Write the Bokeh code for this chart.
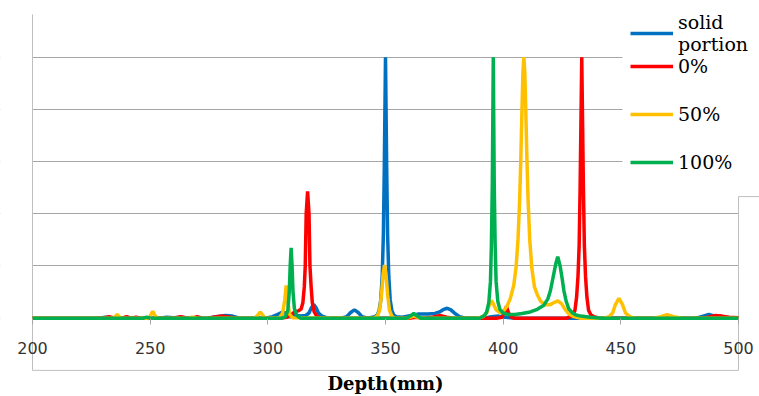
from bokeh.plotting import figure
from bokeh.models import (Range1d, LinearAxis, FixedTicker, Legend, LegendItem,
                          BoxAnnotation, Grid)
from bokeh.embed import file_html
from bokeh.resources import INLINE

# ---------------- data ----------------
x_ticks = [200, 250, 300, 350, 400, 450, 500]
grid_ticks = [0, 1, 2, 3, 4, 5]

solid_x = [200, 228, 231, 234, 254, 257, 260, 263, 266, 274, 278, 282, 285, 288, 299, 302, 304, 306, 308,
           310, 312, 314, 316, 317.5, 318.5, 319.5, 320.5, 321.5, 323, 325, 331, 333.5, 335.2, 336.8, 338.4,
           340, 342.5, 345.5, 346.5, 347.3, 348, 348.6, 349.1, 349.5, 350, 350.5, 350.9, 351.4, 352, 352.7,
           353.5, 354.5, 357, 361, 364, 368, 371, 373, 374.8, 376.2, 377.8, 379.5, 381.5, 384, 392, 395,
           398, 401, 405, 482, 485, 487.4, 490, 494, 500]
solid_y = [0, 0, 0.02, 0, 0, 0.02, 0.01, 0.02, 0, 0, 0.03, 0.05, 0.04, 0, 0, 0.03, 0.07, 0.11, 0.1,
           0.07, 0.05, 0.04, 0.05, 0.1, 0.2, 0.26, 0.2, 0.1, 0.04, 0.01, 0, 0.03, 0.11, 0.16, 0.11,
           0.03, 0, 0.03, 0.06, 0.15, 0.35, 0.8, 1.6, 2.9, 5.0, 2.9, 1.6, 0.8, 0.35, 0.15,
           0.06, 0.03, 0.02, 0.05, 0.08, 0.08, 0.09, 0.12, 0.17, 0.19, 0.16, 0.09, 0.03, 0, 0, 0.03,
           0.04, 0.02, 0, 0, 0.04, 0.07, 0.04, 0.01, 0]

p0_x = [200, 230, 232.5, 235, 238, 240, 242, 244, 246, 260, 263, 266, 268, 270, 272, 275, 278, 281, 284,
        287, 305, 308, 310, 311.5, 313, 314.2, 314.9, 315.5, 315.9, 316.3, 316.9, 317.5, 317.9, 318.4,
        318.9, 319.7, 320.8, 322.5, 360, 363, 366, 370, 373.4, 376, 379, 397, 399.5, 400.5, 401.4,
        402.3, 403.5, 405, 427, 428.5, 429.5, 430.5, 431.2, 431.8, 432.3, 432.7, 433.4, 434.1, 434.5,
        435.0, 435.6, 436.3, 437.3, 438.5, 441, 484, 487, 490, 493, 496, 500]
p0_y = [0, 0, 0.03, 0, 0, 0.03, 0, 0.02, 0, 0, 0.03, 0, 0, 0.03, 0, 0, 0.03, 0.04, 0.02,
        0, 0, 0.02, 0.06, 0.13, 0.14, 0.18, 0.3, 0.6, 1.0, 2.0, 2.43, 2.0, 1.0, 0.6,
        0.3, 0.12, 0.04, 0, 0, 0.02, 0, 0.02, 0.05, 0.02, 0, 0, 0.02, 0.1, 0.23,
        0.1, 0.02, 0, 0, 0.03, 0.06, 0.15, 0.4, 0.8, 1.4, 2.5, 5.0, 2.5, 1.4,
        0.8, 0.4, 0.15, 0.06, 0.03, 0, 0, 0.02, 0.05, 0.04, 0.02, 0.01]

p50_x = [200, 234.5, 236, 237.5, 249.5, 251.1, 252.7, 266, 268, 270, 294.5, 295.8, 296.8, 297.8, 299,
         305, 306.3, 307.2, 307.8, 308.4, 309.2, 310.5, 345, 346.5, 347.5, 348.3, 349, 349.6, 350.2,
         350.9, 351.7, 352.7, 354, 359, 362, 365, 389, 391.5, 393, 394, 395, 396, 397, 398.5, 400,
         401.5, 403, 404.5, 405.5, 406.3, 407, 407.5, 408, 408.4, 408.8, 409.2, 409.6, 410.1, 410.6,
         411.3, 412.2, 413.3, 414.5, 416, 418, 420, 421.6, 423.2, 424.8, 426.3, 428, 430, 433, 443,
         445, 446.5, 447.7, 449.2, 450.7, 452, 453.8, 456, 464, 467, 469.7, 472.5, 476, 500]
p50_y = [0, 0, 0.07, 0, 0, 0.13, 0, 0, 0.02, 0, 0, 0.06, 0.12, 0.06, 0,
         0.01, 0.1, 0.35, 0.63, 0.35, 0.08, 0.01, 0, 0.04, 0.15, 0.45, 0.85, 1.02, 0.85,
         0.45, 0.15, 0.04, 0, 0, 0.04, 0, 0, 0.03, 0.1, 0.24, 0.34, 0.26, 0.16, 0.11, 0.13,
         0.22, 0.37, 0.63, 0.98, 1.5, 2.25, 3.05, 4.0, 4.7, 5.0, 4.7, 4.0, 3.05, 2.25,
         1.5, 0.95, 0.6, 0.45, 0.32, 0.26, 0.26, 0.3, 0.33, 0.28, 0.17, 0.08, 0.03, 0, 0,
         0.03, 0.1, 0.26, 0.38, 0.26, 0.1, 0.03, 0, 0, 0.03, 0.07, 0.03, 0, 0]

p100_x = [200, 247, 248.5, 250, 306, 307.5, 308.5, 309.1, 309.5, 309.9, 310.3, 310.7, 311.3, 312.3, 314,
          359, 360.5, 362, 363.5, 365, 390, 392, 393, 393.9, 394.6, 395.0, 395.4, 395.8, 396.2, 396.6,
          397.0, 397.7, 398.6, 400, 402, 405, 408, 411.5, 414.5, 417.3, 419, 420.1, 421.3, 422.4,
          423.2, 424.2, 425.1, 425.8, 426.8, 427.9, 429.5, 431, 433, 437, 442, 500]
p100_y = [0, 0, 0.02, 0, 0, 0.03, 0.15, 0.5, 1.0, 1.35, 1.0, 0.5, 0.18, 0.05, 0,
          0, 0.04, 0.09, 0.04, 0, 0, 0.05, 0.12, 0.3, 0.7, 1.4, 2.6, 5.0, 2.6, 1.4,
          0.7, 0.33, 0.17, 0.1, 0.07, 0.07, 0.09, 0.12, 0.17, 0.25, 0.37, 0.53, 0.8, 1.05,
          1.18, 1.0, 0.75, 0.53, 0.32, 0.18, 0.1, 0.06, 0.04, 0.02, 0, 0]

series_labels = ["solid\nportion", "0%", "50%", "100%"]
colors = ["#0070C0", "#FF0000", "#FFC000", "#00B050"]

# ---------------- figure ----------------
PX_PER_MM = 2.3533
LEFT_PAD = 32
FIG_W = 759
x0 = 200 - LEFT_PAD / PX_PER_MM
p = figure(width=FIG_W, height=396, output_backend="svg", toolbar_location=None,
           x_range=Range1d(x0, x0 + FIG_W / PX_PER_MM), y_range=Range1d(-1.5, 6.086),
           x_axis_location=None, y_axis_location=None,
           min_border=0, outline_line_color=None,
           background_fill_color="white", border_fill_color="white")
p.xgrid.visible = False
p.ygrid.visible = False

grid = Grid(dimension=1, ticker=FixedTicker(ticks=grid_ticks),
            grid_line_color="#A6A6A6", grid_line_width=1)
p.add_layout(grid)

# white areas: outside the plotted depth range, and behind the legend
for box in (BoxAnnotation(left=x_ticks[-1]), BoxAnnotation(right=x_ticks[0]),
            BoxAnnotation(left=450.7, bottom=2.75)):
    box.fill_color = "white"
    box.fill_alpha = 1.0
    box.line_color = None
    box.level = "underlay"
    p.add_layout(box)

# chart-area frame pieces
p.line(x=[200, 200, 500, 500, 515], y=[5.82, -1.0, -1.0, 2.33, 2.33],
       line_color="#BFBFBF", line_width=1)

LW = 3.5
r_blue = p.line(solid_x, solid_y, line_color=colors[0], line_width=LW)
r_red = p.line(p0_x, p0_y, line_color=colors[1], line_width=LW)
r_yel = p.line(p50_x, p50_y, line_color=colors[2], line_width=LW)
r_grn = p.line(p100_x, p100_y, line_color=colors[3], line_width=LW)

xaxis = LinearAxis(fixed_location=0, bounds=(200, 500),
                   ticker=FixedTicker(ticks=x_ticks, minor_ticks=[]),
                   axis_line_color=None,
                   major_tick_line_color="#A6A6A6", major_tick_out=6, major_tick_in=0,
                   minor_tick_line_color=None,
                   major_label_text_font="DejaVu Sans", major_label_text_font_size="16px",
                   major_label_text_color="#333333", major_label_standoff=18,
                   axis_label="Depth(mm)", axis_label_text_font="DejaVu Serif",
                   axis_label_text_font_style="bold", axis_label_text_font_size="18px",
                   axis_label_text_color="#000000", axis_label_standoff=15)
p.add_layout(xaxis, "below")

common = dict(glyph_width=43, label_standoff=5, margin=0,
              border_line_color=None, background_fill_color="white", background_fill_alpha=1.0,
              label_text_font="DejaVu Serif", label_text_font_size="19px", label_text_color="#000000")

legend_a = Legend(items=[LegendItem(label=series_labels[0], renderers=[r_blue])],
                  location=(630, 341), padding=0, glyph_height=22, label_height=22, **common)
legend_b = Legend(items=[LegendItem(label=series_labels[1], renderers=[r_red]),
                         LegendItem(label=series_labels[2], renderers=[r_yel]),
                         LegendItem(label=series_labels[3], renderers=[r_grn])],
                  location=(630, 223), padding=8, spacing=26, glyph_height=22, label_height=22,
                  **common)
p.add_layout(legend_b)
p.add_layout(legend_a)

open("out.html", "w").write(file_html(p, INLINE))
